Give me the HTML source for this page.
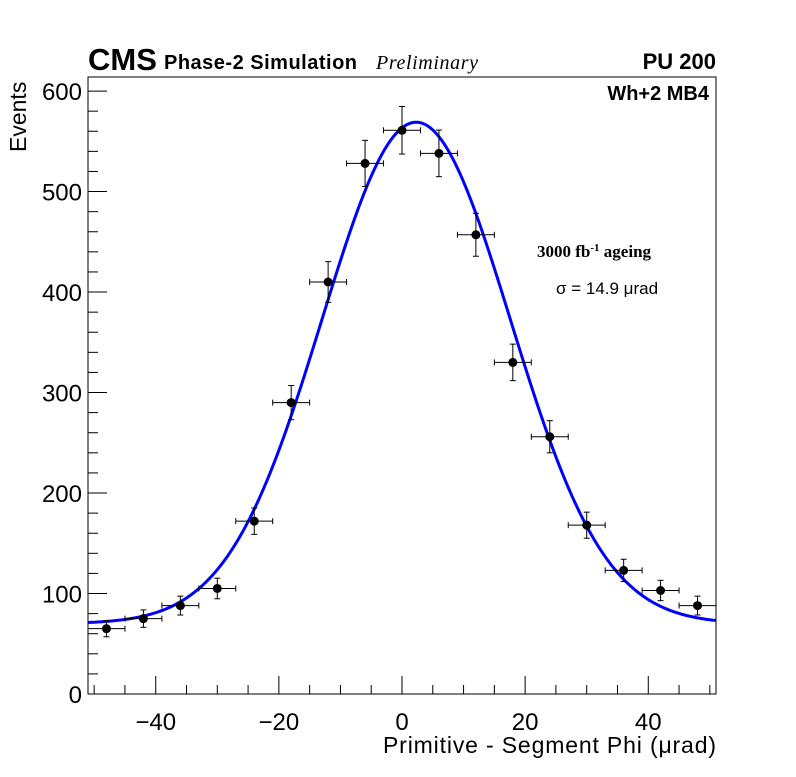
<!DOCTYPE html>
<html><head><meta charset="utf-8"><style>
body{margin:0;background:#fff;}
svg text{font-family:"Liberation Sans",sans-serif;}
</style></head><body>
<svg id="chart" width="796" height="772" xmlns="http://www.w3.org/2000/svg">
<rect width="796" height="772" fill="#fff"/>
<g id="axes"></g>
<g id="marks"></g>
<text x="88" y="70" font-size="31" font-weight="bold">CMS</text>
<text x="164" y="69" font-size="20" font-weight="bold" textLength="193">Phase-2 Simulation</text>
<text x="376" y="69" font-size="20" font-style="italic" style="font-family:'Liberation Serif',serif" textLength="102">Preliminary</text>
<text x="716" y="69" font-size="22" font-weight="bold" text-anchor="end">PU 200</text>
<text x="709" y="100" font-size="20" font-weight="bold" text-anchor="end">Wh+2 MB4</text>
<text x="537" y="257" font-size="17" font-weight="bold" style="font-family:'Liberation Serif',serif">3000 fb<tspan dy="-6" font-size="11">-1</tspan><tspan dy="6"> ageing</tspan></text>
<text x="556" y="294" font-size="17">σ = 14.9 μrad</text>
<text x="716" y="753" font-size="23" text-anchor="end" textLength="333">Primitive - Segment Phi (μrad)</text>
<text transform="translate(26,152) rotate(-90)" font-size="23">Events</text>
</svg>
<script>
const binCenters=[-48,-42,-36,-30,-24,-18,-12,-6,0,6,12,18,24,30,36,42,48];
const counts=[65,75,88,105,172,290,410,528,561,538,457,330,256,168,123,103,88];
const xTicks=[-40,-20,0,20,40];
const yTicks=[0,100,200,300,400,500,600];
const fitParams=[70,499,2.3,15.3]; // const, amplitude, mean, sigma
const NS="http://www.w3.org/2000/svg";
const L=88,R=716,T=77,B=694,xmin=-51,xmax=51,ymin=0,ymax=614;
const sx=v=>L+(v-xmin)/(xmax-xmin)*(R-L);
const sy=v=>B-(v-ymin)/(ymax-ymin)*(B-T);
function mk(tag,attrs,parent){const e=document.createElementNS(NS,tag);for(const k in attrs)e.setAttribute(k,attrs[k]);parent.appendChild(e);return e;}
const ax=document.getElementById('axes'),mg=document.getElementById('marks');
const frame=mk('rect',{x:L,y:T,width:R-L,height:B-T,fill:'none',stroke:'#000','stroke-width':1},ax);


for(let v=-50;v<=50;v+=5){const maj=v%20===0;const l=mk('line',{x1:sx(v),x2:sx(v),y1:B,y2:B-(maj?18:9),stroke:'#000'},ax);

}
xTicks.forEach(v=>{const t=mk('text',{x:sx(v),y:730,'font-size':24,'text-anchor':'middle'},ax);t.textContent=v<0?'\u2212'+(-v):v;

});
for(let v=0;v<=ymax;v+=20){const maj=v%100===0;const l=mk('line',{x1:L,x2:L+(maj?19:10),y1:sy(v),y2:sy(v),stroke:'#000'},ax);

}
yTicks.forEach(v=>{const t=mk('text',{x:82,y:sy(v)+9,'font-size':24,'text-anchor':'end'},ax);t.textContent=v;

});
let d='';const [c,a,m,s]=fitParams;
for(let i=0;i<=400;i++){const x=xmin+(xmax-xmin)*i/400;const y=c+a*Math.exp(-((x-m)**2)/(2*s*s));d+=(i?'L':'M')+sx(x).toFixed(2)+','+sy(y).toFixed(2);}
const cur=mk('path',{d:d,fill:'none',stroke:'#0000ff','stroke-width':3},mg);


binCenters.forEach((x,i)=>{const y=counts[i],e=Math.sqrt(y);
const g=mk('g',{},mg);


mk('line',{x1:sx(x-3),x2:sx(x+3),y1:sy(y),y2:sy(y),stroke:'#000'},g);
mk('line',{x1:sx(x),x2:sx(x),y1:sy(y-e),y2:sy(y+e),stroke:'#000'},g);
[x-3,x+3].forEach(xx=>mk('line',{x1:sx(xx),x2:sx(xx),y1:sy(y)-3,y2:sy(y)+3,stroke:'#000'},g));
[y-e,y+e].forEach(yy=>mk('line',{x1:sx(x)-3,x2:sx(x)+3,y1:sy(yy),y2:sy(yy),stroke:'#000'},g));
mk('circle',{cx:sx(x),cy:sy(y),r:4.5,fill:'#000'},g);});
</script>
</body></html>
